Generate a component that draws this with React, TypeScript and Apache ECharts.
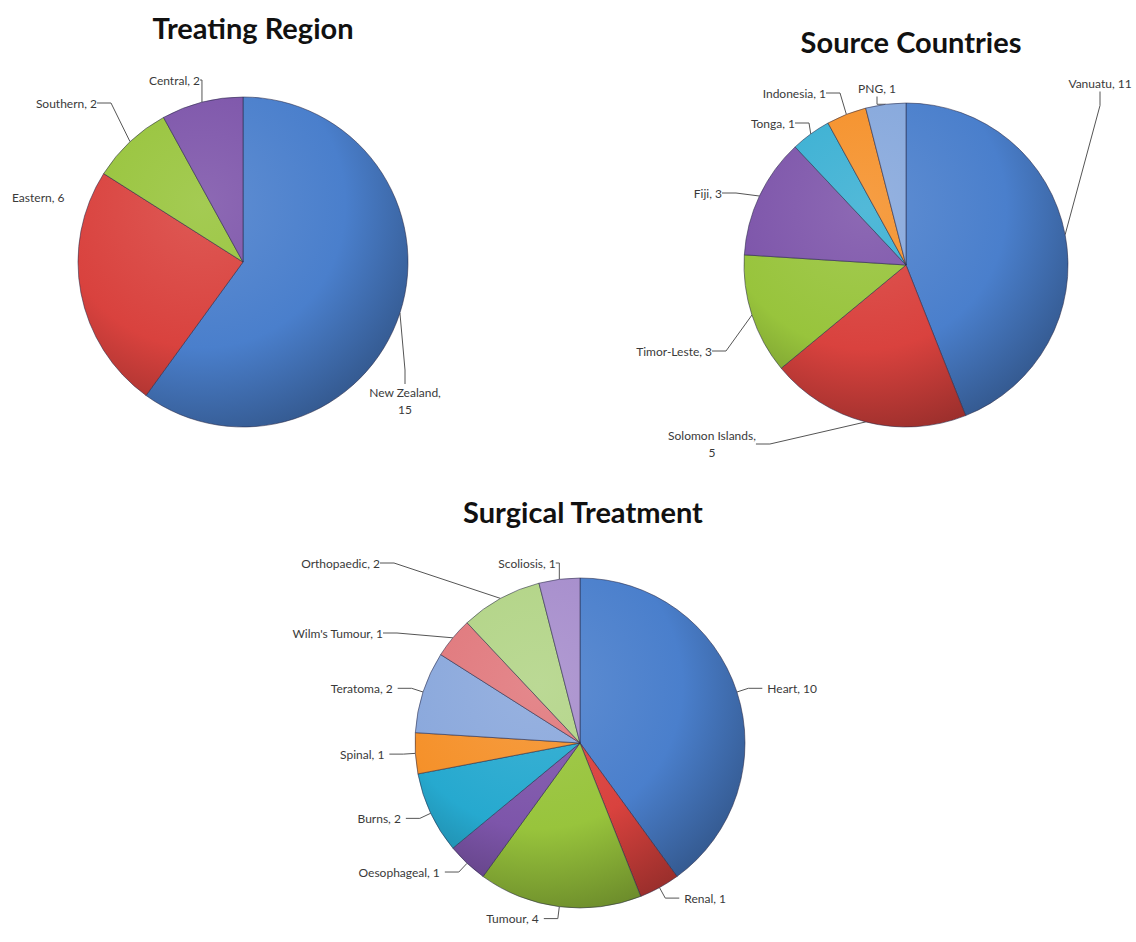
import React, { useEffect, useRef } from "react";
import * as echarts from "echarts";

const regionNames = ["New Zealand", "Eastern", "Southern", "Central"];
const regionValues = [15, 6, 2, 2];
const regionColors = ["#4a7fcc", "#d9423e", "#98c43c", "#7d55aa"];

const countryNames = ["Vanuatu", "Solomon Islands", "Timor-Leste", "Fiji", "Tonga", "Indonesia", "PNG"];
const countryValues = [11, 5, 3, 3, 1, 1, 1];
const countryColors = ["#4a7fcc", "#d9423e", "#98c43c", "#7d55aa", "#3ab0d3", "#f5912a", "#86a8dc"];

const surgeryNames = ["Heart", "Renal", "Tumour", "Oesophageal", "Burns", "Spinal", "Teratoma", "Wilm's Tumour", "Orthopaedic", "Scoliosis"];
const surgeryValues = [10, 1, 4, 1, 2, 1, 2, 1, 2, 1];
const surgeryColors = ["#4a7fcc", "#d9423e", "#98c43c", "#7d55aa", "#26a9cf", "#f5912a", "#8aa8dc", "#e0787c", "#b2d486", "#a68dcc"];

const twoLine = ["New Zealand", "Solomon Islands"];
const noLeader = ["Eastern"];

type Place = { x: number; y: number; align: string; verticalAlign?: string };

// label placement (text layout only) to mimic the spreadsheet's label arrangement
const regionLabelPlace: Record<string, Place> = {
  "New Zealand": { x: 405, y: 384, align: "center", verticalAlign: "top" },
  Eastern: { x: 12, y: 197, align: "left" },
  Southern: { x: 97, y: 103, align: "right" },
  Central: { x: 200, y: 80, align: "right" },
};
const countryLabelPlace: Record<string, Place> = {
  Vanuatu: { x: 1100, y: 83, align: "center" },
  "Solomon Islands": { x: 712, y: 427, align: "center", verticalAlign: "top" },
  "Timor-Leste": { x: 712, y: 351, align: "right" },
  Fiji: { x: 722, y: 193, align: "right" },
  Tonga: { x: 795, y: 123, align: "right" },
  Indonesia: { x: 826, y: 93, align: "right" },
  PNG: { x: 877, y: 88, align: "center" },
};
const surgeryLabelPlace: Record<string, Place> = {
  Orthopaedic: { x: 380, y: 563, align: "right" },
  Scoliosis: { x: 527, y: 563, align: "center" },
  "Wilm's Tumour": { x: 383, y: 633, align: "right" },
};

function mix(hex: string, target: number, amt: number): string {
  const n = parseInt(hex.slice(1), 16);
  const r = (n >> 16) & 255, g = (n >> 8) & 255, b = n & 255;
  const f = (c: number) => Math.round(c + (target - c) * amt);
  return "rgb(" + f(r) + "," + f(g) + "," + f(b) + ")";
}

function buildPie(
  names: string[],
  values: number[],
  colors: string[],
  cx: number,
  cy: number,
  r: number,
  place: Record<string, Place>
) {
  return {
    type: "pie",
    center: [cx, cy],
    radius: [0, r],
    startAngle: 90,
    clockwise: true,
    avoidLabelOverlap: false,
    label: {
      show: true,
      formatter: "{b}, {c}",
      fontFamily: "Lato",
      fontSize: 12,
      lineHeight: 17,
      color: "#3a3a3a",
      overflow: "none",
    },
    labelLine: { show: true, length: 12, length2: 14, lineStyle: { color: "#555", width: 1 } },
    labelLayout: (params: any) => {
      const p = place[names[params.dataIndex]];
      if (!p) return {};
      return { x: p.x, y: p.y, align: p.align, verticalAlign: p.verticalAlign || "middle" };
    },
    emphasis: { disabled: true },
    data: names.map((name, i) => ({
      name,
      value: values[i],
      label: twoLine.includes(name) ? { formatter: "{b},\n{c}" } : undefined,
      labelLine: noLeader.includes(name) ? { show: false } : undefined,
      itemStyle: {
        color: {
          type: "radial",
          x: cx - r * 0.25,
          y: cy - r * 0.35,
          r: r * 1.45,
          global: true,
          colorStops: [
            { offset: 0, color: mix(colors[i], 255, 0.12) },
            { offset: 0.6, color: colors[i] },
            { offset: 1, color: mix(colors[i], 0, 0.3) },
          ],
        },
        borderColor: "rgba(40,40,70,0.55)",
        borderWidth: 1,
      },
    })),
  };
}

export default function App() {
  const ref = useRef<HTMLDivElement>(null);
  useEffect(() => {
    if (!ref.current) return;
    const chart = echarts.init(ref.current, undefined, { renderer: "svg" });
    const titleStyle = { fontFamily: "Lato", fontWeight: "bold", fontSize: 29, color: "#111" };
    chart.setOption({
      animation: false,
      backgroundColor: "#ffffff",
      title: [
        { text: "Treating Region", left: 248, top: 8, textAlign: "center", textStyle: titleStyle },
        { text: "Source Countries", left: 906, top: 22, textAlign: "center", textStyle: titleStyle },
        { text: "Surgical Treatment", left: 578, top: 492, textAlign: "center", textStyle: titleStyle },
      ],
      series: [
        buildPie(regionNames, regionValues, regionColors, 243, 262, 165, regionLabelPlace),
        buildPie(countryNames, countryValues, countryColors, 906, 265, 162, countryLabelPlace),
        buildPie(surgeryNames, surgeryValues, surgeryColors, 580, 743, 165, surgeryLabelPlace),
      ],
    });
    return () => chart.dispose();
  }, []);
  return <div ref={ref} style={{ position: "absolute", left: 0, top: 0, width: 1136, height: 942 }} />;
}
